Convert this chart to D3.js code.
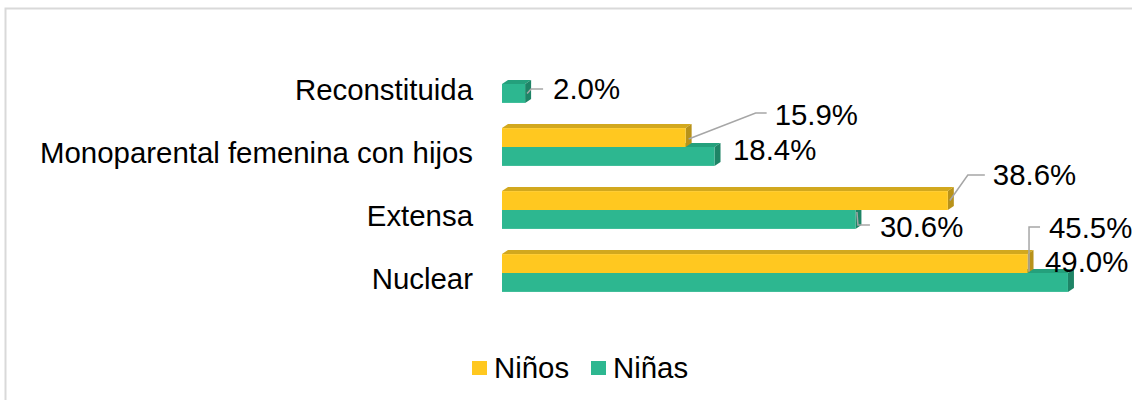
<!DOCTYPE html>
<html>
<head>
<meta charset="utf-8">
<script src="https://cdn.jsdelivr.net/npm/d3@7"></script>
<style>
  body { margin: 0; background: #fff; }
  svg { display: block; font-family: "Liberation Sans", Arial, sans-serif; }
</style>
</head>
<body>
<div id="chart"></div>
<script>
// datos
const categorias = ["Reconstituida", "Monoparental femenina con hijos", "Extensa", "Nuclear"];
const ninos = [null, 15.9, 38.6, 45.5];
const ninas = [2.0, 18.4, 30.6, 49.0];
const series = ["Niños", "Niñas"];

const width = 1132;
const height = 400;
const fontSize = 29.4;
const colores = {
    "Niños": { front: "#FFC820", top: "#D2A81E", side: "#B8921A" },
    "Niñas": { front: "#2DB790", top: "#24A07C", side: "#1E8466" }
};
const depthX = 6, depthY = 4;

// posicion de etiquetas relativa al extremo de la barra: [dx, dy, puntos de la guia]
const etiquetas = {
    "Niños": [
        null,
        { dx: 89, dy: -22.5, guia: [[3, 1.5], [70, -24.5], [81, -24.5]] },
        { dx: 45, dy: -25.5, guia: [[2, 0], [20, -25.5], [37, -25.5]] },
        { dx: 21.5, dy: -35.5, guia: [[1.5, 8], [1.5, -36.5], [12.5, -36.5]] }
    ],
    "Niñas": [
        { dx: 28, dy: -4.5, guia: [[2, 0], [6, -4.5], [18, -4.5]] },
        { dx: 18.5, dy: -6.5, guia: null },
        { dx: 24.6, dy: 7, guia: [[1.5, -7.5], [2.5, 5.5], [14.5, 5.5]] },
        { dx: -23, dy: -20.5, guia: null }
    ]
};

const svg = d3.select("#chart")
    .append("svg")
    .attr("width", width)
    .attr("height", height);

// marco
svg.append("rect")
    .attr("x", 5.5).attr("y", 8.5)
    .attr("width", 1400).attr("height", 600)
    .attr("fill", "none")
    .attr("stroke", "#d9d9d9")
    .attr("stroke-width", 2);

const xScale = d3.scaleLinear()
    .domain([0, 50])
    .range([502, 502 + 577.5]);

const yScale = d3.scaleBand()
    .domain(categorias)
    .range([52.5, 304.5])
    .paddingInner(0.4)
    .paddingOuter(0.2);

const ySub = d3.scaleBand()
    .domain(series)
    .range([0, yScale.bandwidth()]);

const datos = [];
categorias.forEach((c, i) => {
    datos.push({ cat: c, serie: "Niños", valor: ninos[i], idx: i });
    datos.push({ cat: c, serie: "Niñas", valor: ninas[i], idx: i });
});

// etiquetas de categoria
svg.append("g")
    .selectAll("text")
    .data(categorias)
    .enter()
    .append("text")
    .attr("x", 473)
    .attr("y", d => yScale(d) + yScale.bandwidth() / 2 + 6)
    .attr("dy", "0.35em")
    .attr("text-anchor", "end")
    .attr("font-size", fontSize)
    .attr("fill", "#000")
    .text(d => d);

// barras 3D (primero Niñas abajo, luego Niños encima)
const barras = svg.append("g");
const orden = datos.filter(d => d.valor != null)
    .sort((a, b) => (a.serie === "Niñas" ? 1 : 0) - (b.serie === "Niñas" ? 1 : 0) || a.idx - b.idx)
    .reverse();

orden.forEach(d => {
    const x0 = xScale(0);
    const x1 = xScale(d.valor);
    const y0 = yScale(d.cat) + ySub(d.serie);
    const h = ySub.bandwidth();
    const col = colores[d.serie];
    const g = barras.append("g");
    g.append("path")
        .attr("d", `M${x0},${y0} L${x0 + depthX},${y0 - depthY} L${x1 + depthX},${y0 - depthY} L${x1},${y0} Z`)
        .attr("fill", col.top);
    g.append("path")
        .attr("d", `M${x1},${y0} L${x1 + depthX},${y0 - depthY} L${x1 + depthX},${y0 + h - depthY} L${x1},${y0 + h} Z`)
        .attr("fill", col.side);
    g.append("rect")
        .attr("x", x0)
        .attr("y", y0)
        .attr("width", x1 - x0)
        .attr("height", h)
        .attr("fill", col.front);
});

// etiquetas de valores
const capaEtiq = svg.append("g");
datos.filter(d => d.valor != null).forEach(d => {
    const conf = etiquetas[d.serie][d.idx];
    const xe = xScale(d.valor);
    const ym = yScale(d.cat) + ySub(d.serie) + ySub.bandwidth() / 2;
    if (conf.guia) {
        capaEtiq.append("polyline")
            .attr("points", conf.guia.map(p => `${xe + p[0]},${ym + p[1]}`).join(" "))
            .attr("fill", "none")
            .attr("stroke", "#a6a6a6")
            .attr("stroke-width", 1.5);
    }
    capaEtiq.append("text")
        .attr("x", xe + conf.dx)
        .attr("y", ym + conf.dy)
        .attr("dy", "0.35em")
        .attr("font-size", fontSize)
        .attr("fill", "#000")
        .text(d3.format(".1f")(d.valor) + "%");
});

// leyenda
const leyenda = svg.append("g");
const posLeyenda = [472, 591];
series.forEach((s, i) => {
    leyenda.append("rect")
        .attr("x", posLeyenda[i])
        .attr("y", 361)
        .attr("width", 15)
        .attr("height", 14)
        .attr("fill", colores[s].front);
    leyenda.append("text")
        .attr("x", posLeyenda[i] + 22)
        .attr("y", 368)
        .attr("dy", "0.35em")
        .attr("font-size", fontSize)
        .attr("fill", "#000")
        .text(s);
});
</script>
</body>
</html>
